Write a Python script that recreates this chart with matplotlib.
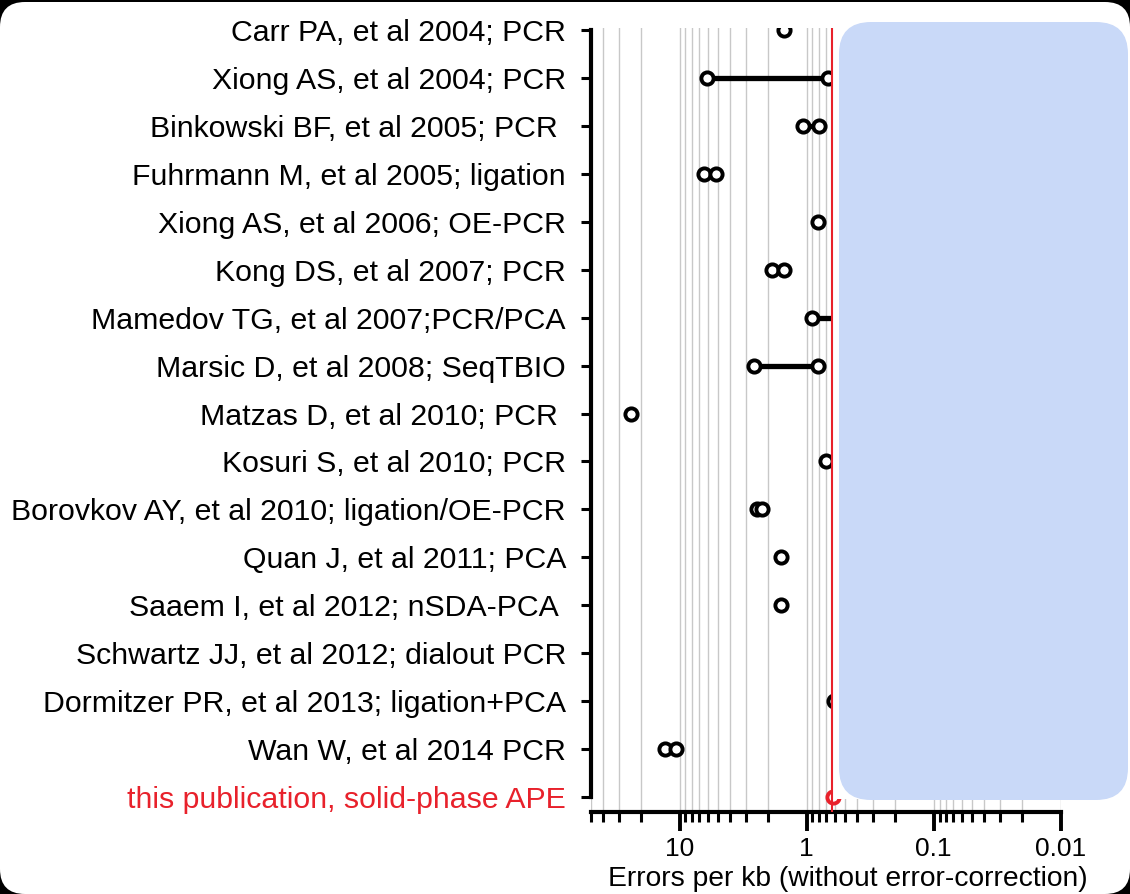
import numpy as np
import matplotlib.pyplot as plt
from matplotlib.patches import FancyBboxPatch, Rectangle

plt.rcParams['font.family'] = ['Liberation Sans', 'DejaVu Sans']

# ---- data (errors per kb) ----
studies = [
    "Carr PA, et al 2004; PCR",
    "Xiong AS, et al 2004; PCR",
    "Binkowski BF, et al 2005; PCR ",
    "Fuhrmann M, et al 2005; ligation",
    "Xiong AS, et al 2006; OE-PCR",
    "Kong DS, et al 2007; PCR",
    "Mamedov TG, et al 2007;PCR/PCA",
    "Marsic D, et al 2008; SeqTBIO",
    "Matzas D, et al 2010; PCR ",
    "Kosuri S, et al 2010; PCR",
    "Borovkov AY, et al 2010; ligation/OE-PCR",
    "Quan J, et al 2011; PCA",
    "Saaem I, et al 2012; nSDA-PCA ",
    "Schwartz JJ, et al 2012; dialout PCR",
    "Dormitzer PR, et al 2013; ligation+PCA",
    "Wan W, et al 2014 PCR",
    "this publication, solid-phase APE",
]
err_high = [1.51, 6.1, 1.06, 6.44, 0.81, 1.87, 0.90, 2.6, 24.2, 0.71, 2.45, 1.60, 1.60, np.nan, 0.61, 13.1, 0.62]
err_low = [np.nan, 0.676, 0.796, 5.18, np.nan, 1.50, 0.30, 0.815, np.nan, np.nan, 2.25, np.nan, np.nan, np.nan, np.nan, 10.6, np.nan]
this_work = 0.63

xticks = [10, 1, 0.1, 0.01]
xticklabels = ["10", "1", "0.1", "0.01"]

red = '#e8212b'

fig = plt.figure(figsize=(11.3, 8.94), dpi=100, facecolor='black')
# rounded white page
fig.patches.append(FancyBboxPatch((0, 0), 11.3, 8.92, boxstyle="round,pad=0,rounding_size=0.25",
                                  transform=fig.dpi_scale_trans, fc='white', ec='none', zorder=-1))

ax = fig.add_axes([0.5229, 0.09206, 0.4158, 0.8765])
ax.set_facecolor('none')
ax.set_xscale('log')
ax.set_xlim(50, 0.01)
ax.set_ylim(16.307, -0.04)

y = np.arange(len(studies))
for i in range(len(studies)):
    vals = [v for v in (err_high[i], err_low[i]) if not np.isnan(v)]
    if not vals:
        continue
    col = red if i == len(studies) - 1 else 'black'
    if len(vals) == 2:
        ax.plot(vals, [y[i]] * 2, color='black', lw=3.8, zorder=2, solid_capstyle='butt')
    ax.plot(vals, [y[i]] * len(vals), 'o', ms=8.8, mfc='white', mec=col, mew=2.8, zorder=2.5)

# mask right of reference line
ax.add_patch(Rectangle((this_work, -0.04), 0.01 - this_work, 16.09, fc='white', ec='none', zorder=3))
ax.axvline(this_work, ymin=0.0, ymax=1.0, color=red, lw=1.5, zorder=4)

ax.set_yticks(y)
ax.set_yticklabels(studies, fontsize=21.8)
ax.get_yticklabels()[-1].set_color(red)
ax.set_xticks(xticks)
ax.set_xticklabels(xticklabels, fontsize=19)
ax.set_xlabel("Errors per kb (without error-correction)", fontsize=20.3, labelpad=4)
ax.xaxis.label.set_x(0.547)

ax.grid(True, which='both', axis='x', color='#c8c8c8', lw=1, zorder=0)
ax.set_axisbelow(True)

for s in ['top', 'right']:
    ax.spines[s].set_visible(False)
ax.spines['left'].set_bounds(0, 16)
ax.spines['left'].set_linewidth(3)
ax.spines['bottom'].set_linewidth(3)
ax.tick_params(axis='y', length=7, width=2.2, pad=11)
ax.tick_params(axis='x', which='major', length=14, width=2.8, pad=4)
ax.tick_params(axis='x', which='minor', length=7, width=2.2)

# blue shaded region
fig.patches.append(FancyBboxPatch((8.39, 0.94), 2.89, 7.78, boxstyle="round,pad=0,rounding_size=0.32",
                                  transform=fig.dpi_scale_trans, fc='#c9d9f8', ec='none', zorder=5))

fig.savefig("out.png", dpi=100, facecolor=fig.get_facecolor())
